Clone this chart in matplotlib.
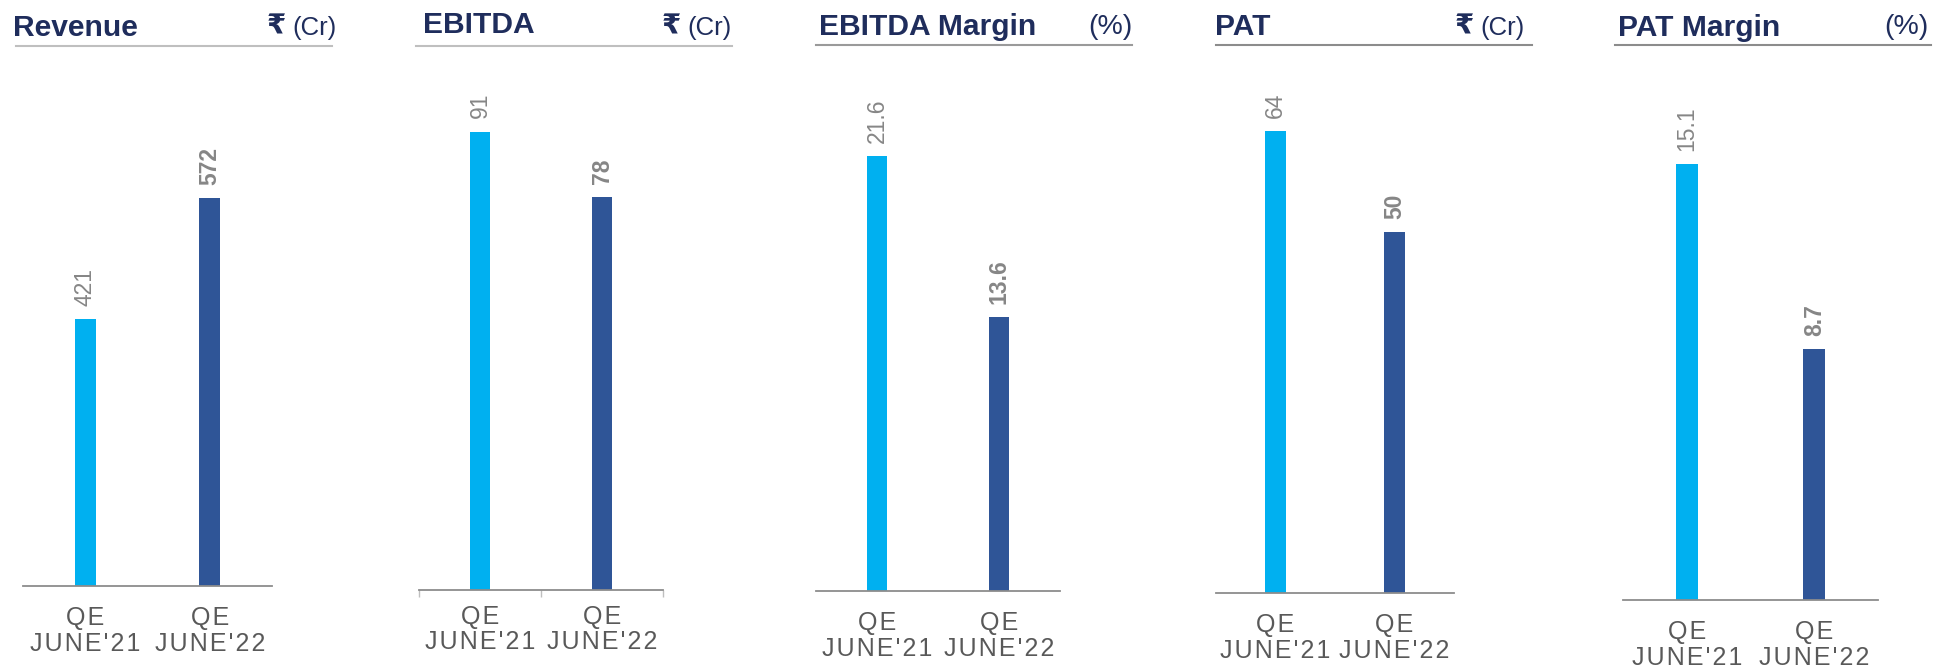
import matplotlib
matplotlib.use("Agg")
import matplotlib.pyplot as plt
from matplotlib.lines import Line2D

W, H = 1953, 668
DPI = 100

# ---------------- data ----------------
categories = ["QE\nJUNE'21", "QE\nJUNE'22"]
titles = ["Revenue", "EBITDA", "EBITDA Margin", "PAT", "PAT Margin"]
units = ["₹ (Cr)", "₹ (Cr)", "(%)", "₹ (Cr)", "(%)"]
revenue = [421, 572]
ebitda = [91, 78]
ebitda_margin = [21.6, 13.6]
pat = [64, 50]
pat_margin = [15.1, 8.7]
label_formats = ["{:.0f}", "{:.0f}", "{:.1f}", "{:.0f}", "{:.1f}"]
series = [revenue, ebitda, ebitda_margin, pat, pat_margin]

# ---------------- style / layout ----------------
bar_colors = ["#00B0F0", "#2F5597"]
navy = "#1F2D5C"
FONT = ["Liberation Sans", "DejaVu Sans"]

# pixel layout per panel: axis x0, x1, baseline y, y-limits
ax_x = [(23, 272), (419, 663), (816, 1060), (1216, 1454), (1623, 1878)]
ax_base = [586, 590, 591, 593, 600]
ax_top = 60
ylims = [(88, 744), (0, 105.2), (0, 26.35), (0, 73.8), (0, 18.72)]
title_pos = [(13, 36), (423, 33), (819, 35), (1215, 35), (1618, 36)]
unit_right = [337, 732, 1132, 1525, 1928]
uline = [(16, 332, 46), (416, 732, 46), (816, 1132, 45), (1216, 1532, 45), (1615, 1931, 45)]
uline_colors = ["#BFBFBF", "#BFBFBF", "#9A9A9A", "#8C8C8C", "#8C8C8C"]
boundary_ticks = [False, True, False, False, False]

plt.rcParams['font.family'] = FONT

fig = plt.figure(figsize=(W / DPI, H / DPI), dpi=DPI)


def fx(x):
    return x / W


def fy(y):
    return 1 - y / H


def spaced(s):
    return "\n".join("\u200a".join(line) for line in s.split("\n"))


for i in range(5):
    x0, x1 = ax_x[i]
    base = ax_base[i]
    ax = fig.add_axes([fx(x0), fy(base), (x1 - x0) / W, (base - ax_top) / H])
    vals = series[i]
    xs = list(range(len(categories)))
    ax.bar(xs, vals, width=0.172, color=bar_colors, zorder=2)
    ax.set_xlim(-0.5, 1.5)
    ax.set_ylim(*ylims[i])
    for s in ["left", "right", "top"]:
        ax.spines[s].set_visible(False)
    ax.spines["bottom"].set_color("#8C8C8C")
    ax.spines["bottom"].set_linewidth(1.3)
    ax.set_yticks([])
    ax.set_xticks(xs)
    ax.set_xticklabels([spaced(c) for c in categories], fontsize=18,
                       color="#595959", linespacing=1.08)
    if boundary_ticks[i]:
        ax.set_xticks([-0.5, 0.5, 1.5], minor=True)
        ax.tick_params(axis="x", which="minor", length=5, width=1.0,
                       color="#BFBFBF", direction="out")
        ax.tick_params(axis="x", which="major", length=0, pad=10.5)
    else:
        ax.tick_params(axis="x", which="major", length=0, pad=14.5)
    for j, v in enumerate(vals):
        ax.annotate(label_formats[i].format(v), xy=(j, v), xytext=(0, 9.4),
                    textcoords="offset points", rotation=90, ha="center",
                    va="bottom", fontsize=16.5, color="#868686",
                    fontweight="bold" if j == 1 else "normal")

    # title, unit and underline
    tx, ty = title_pos[i]
    fig.text(fx(tx), fy(ty), titles[i], fontsize=21.6, fontweight="bold",
             color=navy, ha="left", va="baseline")
    u = units[i]
    if u.startswith("₹"):
        fig.text(fx(unit_right[i]), fy(35), "(Cr)", fontsize=18.5,
                 color=navy, ha="right", va="baseline")
        fig.text(fx(unit_right[i] - 51), fy(35), "₹", fontsize=20,
                 fontweight="bold", color=navy, ha="right", va="baseline")
    else:
        fig.text(fx(unit_right[i]), fy(34), u, fontsize=20.5,
                 color=navy, ha="right", va="baseline")
    lx0, lx1, ly = uline[i]
    fig.add_artist(Line2D([fx(lx0), fx(lx1)], [fy(ly), fy(ly)],
                          transform=fig.transFigure, color=uline_colors[i],
                          linewidth=1.5))

fig.savefig("out.png", dpi=DPI)
